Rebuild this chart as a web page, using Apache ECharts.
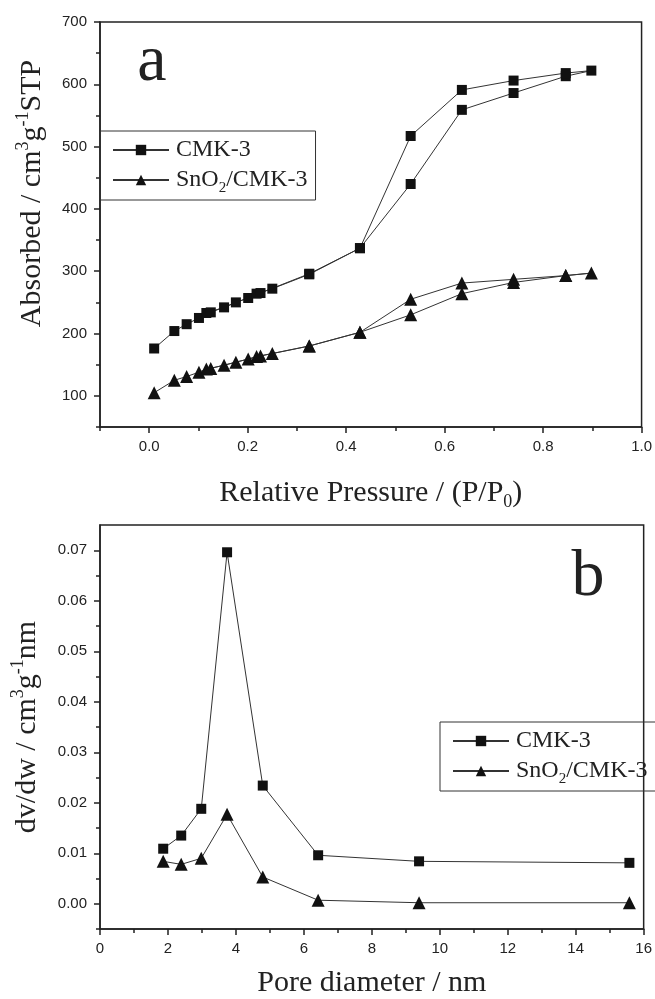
<!DOCTYPE html>
<html>
<head>
<meta charset="utf-8">
<script src="https://cdn.jsdelivr.net/npm/echarts@6/dist/echarts.min.js"></script>
<style>
html, body { margin: 0; padding: 0; background: #fff; }
#main { width: 655px; height: 999px; }
</style>
</head>
<body>
<div id="main"></div>
<script>
// (a) N2 isotherms: adsorption branch, then desorption branch back down
const pAds = [0.010, 0.051, 0.076, 0.101, 0.116, 0.152, 0.176, 0.201, 0.218, 0.250, 0.325, 0.428, 0.531, 0.635, 0.740, 0.846, 0.898];
const pDes = [0.846, 0.740, 0.635, 0.531, 0.428, 0.325, 0.226, 0.125];
const cmkAds = [176, 204, 215, 225, 233, 242, 250, 257, 264, 272, 295, 337, 440, 559, 586, 613, 622];
const cmkDes = [618, 606, 591, 517, 337, 296, 265, 234];
const snoAds = [105, 125, 131, 138, 143, 149, 154, 159, 163, 168, 180, 202, 230, 264, 282, 293, 297];
const snoDes = [293, 287, 281, 255, 202, 180, 164, 144];

// (b) pore size distribution
const poreD = [1.86, 2.39, 2.98, 3.74, 4.79, 6.42, 9.39, 15.58];
const cmkPsd = [0.0109, 0.0135, 0.0188, 0.0696, 0.0234, 0.0096, 0.0084, 0.0081];
const snoPsd = [0.0084, 0.0078, 0.0090, 0.0177, 0.0053, 0.0007, 0.0002, 0.0002];

// tick positions
const aXMajor = [0, 0.2, 0.4, 0.6, 0.8, 1.0];
const aXMinor = [-0.1, 0.1, 0.3, 0.5, 0.7, 0.9];
const aYMajor = [100, 200, 300, 400, 500, 600, 700];
const aYMinor = [50, 150, 250, 350, 450, 550, 650];
const bYMajor = [0, 0.01, 0.02, 0.03, 0.04, 0.05, 0.06, 0.07];
const bYMinor = [-0.005, 0.005, 0.015, 0.025, 0.035, 0.045, 0.055, 0.065];

const names = ['CMK-3', 'SnO2/CMK-3'];

const SERIF = '"Liberation Serif", "Times New Roman", serif';
const SANS = '"Liberation Sans", Arial, sans-serif';
const INK = '#222';

const zip = (xs, ys) => xs.map((x, i) => [x, ys[i]]);

const richTitle = {
    t: { fontFamily: SERIF, fontSize: 30, color: INK, lineHeight: 36 },
    sup: { fontFamily: SERIF, fontSize: 18, color: INK, lineHeight: 18, verticalAlign: 'top' },
    sub: { fontFamily: SERIF, fontSize: 18, color: INK, lineHeight: 10, verticalAlign: 'bottom' }
};
const richLegend = {
    t: { fontFamily: SERIF, fontSize: 24, color: INK, lineHeight: 24 },
    sub: { fontFamily: SERIF, fontSize: 15, color: INK, lineHeight: 4, verticalAlign: 'top', padding: [13, 0, 0, 0] }
};

function legendFmt(name) {
    if (name === 'SnO2/CMK-3') return '{t|SnO}{sub|2}{t|/CMK-3}';
    return '{t|' + name + '}';
}

function legendBox(left, top) {
    return {
        data: names,
        orient: 'vertical',
        left: left,
        top: top,
        padding: [7, 8, 4, 12],
        itemGap: 6,
        itemWidth: 56,
        itemHeight: 13,
        borderColor: '#333',
        borderWidth: 1,
        formatter: legendFmt,
        textStyle: { rich: richLegend, padding: [0, 0, 0, 2] }
    };
}

const axisLineStyle = { color: INK, width: 1.5 };

// hidden-label axis that only draws the short (minor) ticks
function minorAxis(gridIndex, position, min, max, values) {
    return {
        type: 'value', gridIndex: gridIndex, position: position,
        min: min, max: max,
        axisLine: { show: false, onZero: false },
        axisLabel: { show: false },
        splitLine: { show: false },
        axisTick: { show: true, customValues: values, length: 4, lineStyle: axisLineStyle }
    };
}

function lineSeries(name, xi, yi, data, symbol, size) {
    return {
        name: name, type: 'line',
        xAxisIndex: xi, yAxisIndex: yi,
        data: data,
        symbol: symbol, symbolSize: size,
        lineStyle: { color: '#333', width: 1 },
        itemStyle: { color: '#111' },
        emphasis: { disabled: true }
    };
}

const chart = echarts.init(document.getElementById('main'));

chart.setOption({
    animation: false,
    backgroundColor: '#fff',
    grid: [
        { left: 100, top: 22, width: 544, height: 405, show: true, borderColor: INK, borderWidth: 1.5 },
        { left: 100, top: 525, width: 544, height: 405, show: true, borderColor: INK, borderWidth: 1.5 }
    ],
    xAxis: [
        {
            type: 'value', gridIndex: 0, position: 'bottom',
            min: -0.1, max: 1.0,
            axisLine: { onZero: false, lineStyle: axisLineStyle },
            axisTick: { customValues: aXMajor, length: 6, lineStyle: axisLineStyle },
            axisLabel: {
                customValues: aXMajor, margin: 12,
                fontFamily: SANS, fontSize: 15, color: INK,
                formatter: v => v.toFixed(1)
            },
            splitLine: { show: false },
            name: '{t|Relative Pressure / (P/P}{sub|0}{t|)}',
            nameLocation: 'middle', nameGap: 48,
            nameTextStyle: { rich: richTitle }
        },
        minorAxis(0, 'bottom', -0.1, 1.0, aXMinor),
        {
            type: 'value', gridIndex: 1, position: 'bottom',
            min: 0, max: 16, interval: 2,
            axisLine: { onZero: false, lineStyle: axisLineStyle },
            axisTick: { length: 6, lineStyle: axisLineStyle },
            minorTick: { show: true, splitNumber: 2, length: 4, lineStyle: axisLineStyle },
            axisLabel: { margin: 12, fontFamily: SANS, fontSize: 15, color: INK },
            splitLine: { show: false },
            name: '{t|Pore diameter / nm}',
            nameLocation: 'middle', nameGap: 36,
            nameTextStyle: { rich: richTitle }
        }
    ],
    yAxis: [
        {
            type: 'value', gridIndex: 0, position: 'left',
            min: 50, max: 700,
            axisLine: { onZero: false, lineStyle: axisLineStyle },
            axisTick: { customValues: aYMajor, length: 6, lineStyle: axisLineStyle },
            axisLabel: { customValues: aYMajor, margin: 13, fontFamily: SANS, fontSize: 15, color: INK },
            splitLine: { show: false },
            name: '{t|Absorbed / cm}{sup|3}{t|g}{sup|-1}{t|STP}',
            nameLocation: 'middle', nameGap: 50,
            nameTextStyle: { rich: richTitle, padding: [0, 0, 0, 62] }
        },
        minorAxis(0, 'left', 50, 700, aYMinor),
        {
            type: 'value', gridIndex: 1, position: 'left',
            min: -0.005, max: 0.075,
            axisLine: { onZero: false, lineStyle: axisLineStyle },
            axisTick: { customValues: bYMajor, length: 6, lineStyle: axisLineStyle },
            axisLabel: {
                customValues: bYMajor, margin: 13,
                fontFamily: SANS, fontSize: 15, color: INK,
                formatter: v => v.toFixed(2)
            },
            splitLine: { show: false },
            name: '{t|dv/dw / cm}{sup|3}{t|g}{sup|-1}{t|nm}',
            nameLocation: 'middle', nameGap: 55,
            nameTextStyle: { rich: richTitle }
        },
        minorAxis(1, 'left', -0.005, 0.075, bYMinor)
    ],
    legend: [legendBox(100, 131), legendBox(440, 722)],
    graphic: [
        { type: 'text', x: 152, y: 63, style: { text: 'a', font: '66px ' + SERIF, fill: INK, textAlign: 'center', textVerticalAlign: 'middle', verticalAlign: 'middle' } },
        { type: 'text', x: 588, y: 578, style: { text: 'b', font: '66px ' + SERIF, fill: INK, textAlign: 'center', textVerticalAlign: 'middle', verticalAlign: 'middle' } }
    ],
    series: [
        lineSeries('CMK-3', 0, 0, zip(pAds.concat(pDes), cmkAds.concat(cmkDes)), 'rect', 10),
        lineSeries('SnO2/CMK-3', 0, 0, zip(pAds.concat(pDes), snoAds.concat(snoDes)), 'triangle', 13),
        lineSeries('CMK-3', 2, 2, zip(poreD, cmkPsd), 'rect', 10),
        lineSeries('SnO2/CMK-3', 2, 2, zip(poreD, snoPsd), 'triangle', 13)
    ]
});
</script>
</body>
</html>
